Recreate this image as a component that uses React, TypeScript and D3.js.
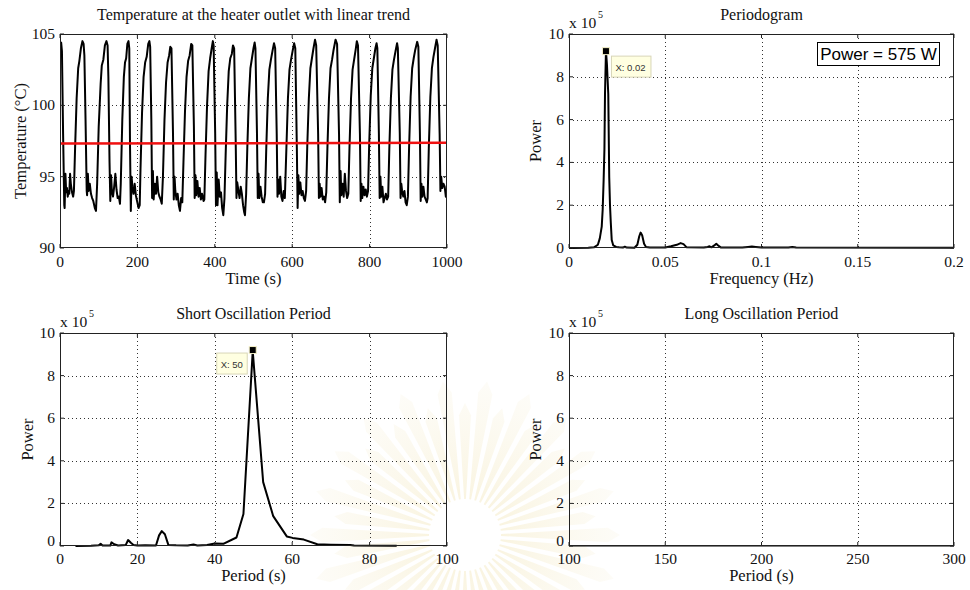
import React from 'react';
import * as d3 from 'd3';

// ---------------- data ----------------
const timeTicks = [0, 200, 400, 600, 800, 1000];
const tempTicks = [90, 95, 100, 105];
const freqTicks = [0, 0.05, 0.1, 0.15, 0.2];
const powerTicks = [0, 2, 4, 6, 8, 10];
const shortPeriodTicks = [0, 20, 40, 60, 80, 100];
const longPeriodTicks = [100, 150, 200, 250, 300];

// heater outlet temperature: [time (s), temperature (°C)]
const temperature: [number, number][] = [
  [0, 104.2], [3, 104.4], [5, 103.8], [8, 98.0], [11, 93.0], [12, 92.8], [14, 95.2], [16, 93.9], [18, 94.2], [20, 93.6], [22, 94.0], [24, 93.8], [26, 95.2], [28, 94.5], [31, 93.9], [34, 93.6], [36, 94.0],
  [39, 97.0], [43, 100.5], [47, 102.6], [50, 103.1], [54, 104.0], [58, 104.5], [61, 104.3],
  [63, 103.5], [66, 99.0], [69, 94.0], [70, 93.7], [72, 95.2], [74, 94.0], [77, 94.5], [80, 93.8], [83, 93.5], [86, 93.3], [90, 92.8], [93, 92.6],
  [96, 94.5], [100, 98.5], [105, 101.5], [108, 102.8], [112, 103.2], [116, 104.2], [120, 104.5], [123, 104.2],
  [125, 102.0], [128, 96.0], [130, 93.3], [132, 95.1], [134, 94.0], [137, 93.6], [140, 94.3], [143, 95.2], [146, 94.1], [149, 93.5], [152, 93.6], [155, 93.1], [157, 94.5],
  [161, 99.0], [165, 102.0], [168, 103.0], [171, 103.3], [174, 104.3], [177, 104.5], [179, 104.0],
  [181, 97.0], [183, 92.6], [185, 95.0], [187, 94.3], [190, 93.8], [193, 94.5], [196, 93.7], [199, 93.3], [203, 92.8], [206, 93.0],
  [208, 95.5], [212, 99.5], [216, 102.0], [220, 103.0], [224, 103.4], [228, 104.3], [231, 104.5], [233, 104.1],
  [236, 99.0], [238, 93.5], [240, 95.4], [242, 93.4], [245, 94.5], [248, 93.8], [251, 95.0], [254, 93.9], [257, 93.6], [260, 93.4], [263, 93.1],
  [266, 95.0], [270, 99.0], [274, 101.6], [278, 103.0], [282, 103.5], [285, 104.1], [288, 104.0],
  [292, 98.0], [294, 93.4], [296, 95.0], [298, 94.0], [301, 93.4], [304, 93.8], [307, 93.0], [310, 92.6], [313, 93.5], [316, 93.2],
  [319, 96.0], [323, 99.6], [327, 102.0], [331, 103.1], [335, 103.5], [339, 104.3], [342, 104.2],
  [346, 98.5], [348, 93.5], [350, 95.1], [352, 93.7], [355, 94.7], [358, 93.6], [361, 94.2], [364, 93.4], [367, 93.8], [371, 93.3], [373, 93.4],
  [376, 96.5], [380, 100.0], [384, 102.4], [388, 103.3], [392, 104.0], [395, 104.5], [397, 104.2],
  [401, 98.0], [403, 93.0], [405, 95.3], [407, 93.0], [410, 94.8], [413, 93.6], [416, 93.9], [419, 92.8], [422, 92.3], [425, 93.5],
  [428, 96.5], [432, 100.0], [436, 102.4], [440, 103.3], [444, 103.6], [447, 104.2], [450, 104.0],
  [454, 97.5], [456, 93.5], [458, 94.6], [461, 94.0], [464, 93.5], [467, 94.3], [470, 93.8], [473, 93.0], [476, 92.5], [478, 92.3], [481, 93.8],
  [484, 97.0], [488, 100.5], [492, 102.6], [496, 103.3], [500, 104.0], [503, 104.4], [505, 104.0],
  [509, 98.0], [511, 93.5], [513, 95.2], [515, 93.5], [518, 94.3], [521, 93.6], [524, 93.2], [527, 93.2], [530, 93.8],
  [533, 97.0], [537, 100.5], [541, 102.5], [545, 103.2], [549, 103.8], [553, 104.35], [556, 104.0],
  [560, 98.0], [562, 93.6], [564, 94.8], [566, 93.8], [569, 95.0], [572, 93.6], [575, 93.3], [578, 94.0], [581, 93.5],
  [585, 97.0], [589, 100.5], [593, 102.5], [597, 103.2], [601, 103.8], [605, 104.35], [608, 104.0],
  [612, 97.0], [614, 92.8], [616, 95.1], [618, 93.8], [621, 94.6], [624, 93.7], [627, 94.0], [630, 93.5], [633, 93.3], [636, 94.0],
  [639, 97.2], [643, 100.5], [647, 102.6], [651, 103.3], [655, 104.0], [659, 104.6], [662, 104.2],
  [667, 98.0], [669, 93.5], [671, 94.5], [673, 93.6], [676, 94.2], [679, 93.4], [682, 93.6], [685, 93.2], [688, 93.9],
  [691, 97.0], [695, 100.5], [699, 102.6], [703, 103.2], [707, 103.9], [712, 104.6], [716, 104.3],
  [721, 98.0], [723, 93.2], [725, 95.4], [727, 93.7], [730, 94.5], [733, 93.6], [736, 95.2], [739, 94.0], [742, 93.5], [745, 93.8],
  [748, 97.0], [752, 100.5], [756, 102.5], [760, 103.2], [764, 103.9], [767, 104.5], [770, 104.2],
  [775, 98.0], [777, 93.3], [779, 94.5], [781, 93.5], [784, 94.3], [787, 93.7], [790, 94.1], [793, 93.6], [796, 94.0],
  [799, 97.3], [803, 100.7], [807, 102.6], [811, 103.3], [815, 104.0], [818, 104.35], [820, 104.0],
  [824, 98.0], [826, 93.5], [828, 95.0], [830, 93.6], [833, 94.3], [836, 93.2], [839, 93.5], [842, 93.8], [845, 93.4], [848, 93.6],
  [851, 97.0], [855, 100.5], [859, 102.5], [863, 103.2], [867, 103.8], [871, 104.35], [873, 104.0],
  [878, 98.0], [880, 93.5], [882, 94.5], [884, 94.0], [887, 93.6], [890, 94.0], [893, 93.2], [896, 93.0], [899, 93.6],
  [902, 97.0], [906, 100.6], [910, 102.6], [914, 103.3], [918, 103.9], [923, 104.45], [926, 104.1],
  [930, 98.0], [932, 93.3], [934, 94.5], [936, 93.6], [939, 94.3], [942, 93.6], [945, 93.4], [948, 93.2], [950, 93.5],
  [953, 97.0], [957, 100.6], [961, 102.6], [965, 103.4], [969, 104.0], [973, 104.6], [976, 104.2],
  [981, 98.0], [983, 94.0], [985, 95.0], [988, 94.2], [991, 94.5], [994, 94.3], [997, 93.6], [1000, 93.8],
];

const linearTrend: [number, number][] = [[0, 97.32], [1000, 97.38]];

// periodogram: [frequency (Hz), power (x 1e5)]
const periodogram: [number, number][] = [
  [0, 0], [0.010, 0.01], [0.013, 0.03], [0.015, 0.15], [0.016, 0.45], [0.017, 1.0], [0.0175, 1.8], [0.018, 3.2],
  [0.0184, 4.6], [0.0187, 7.2], [0.0192, 9.2], [0.0197, 8.6], [0.0204, 7.2], [0.0209, 3.3], [0.0213, 2.0],
  [0.0217, 1.2], [0.0222, 0.37], [0.023, 0.12], [0.0245, 0.05], [0.026, 0.03], [0.028, 0.02], [0.029, 0.06],
  [0.030, 0.02], [0.034, 0.01], [0.0355, 0.15], [0.0365, 0.55], [0.0372, 0.72], [0.038, 0.6], [0.039, 0.2],
  [0.040, 0.05], [0.042, 0.02], [0.050, 0.02], [0.053, 0.08], [0.056, 0.15], [0.058, 0.23], [0.0595, 0.18],
  [0.061, 0.04], [0.070, 0.02], [0.072, 0.05], [0.073, 0.08], [0.074, 0.03], [0.0755, 0.12], [0.0765, 0.2],
  [0.0775, 0.12], [0.079, 0.02], [0.090, 0.02], [0.093, 0.05], [0.095, 0.07], [0.097, 0.05], [0.100, 0.02],
  [0.114, 0.02], [0.116, 0.05], [0.118, 0.02], [0.2, 0.01],
];

// short oscillation period: [period (s), power (x 1e5)]
const shortPeriod: [number, number][] = [
  [4, 0.0], [8, 0.01], [10, 0.03], [10.5, 0.1], [11, 0.02], [13, 0.02], [13.3, 0.17], [14, 0.08], [15, 0.02],
  [17, 0.05], [17.6, 0.28], [18.3, 0.15], [19, 0.05], [20, 0.02], [22, 0.03], [24.8, 0.02], [25.6, 0.5],
  [26.3, 0.7], [27.1, 0.55], [28.0, 0.05], [30, 0.03], [33, 0.02], [34.5, 0.07], [35.5, 0.02], [38, 0.05],
  [40, 0.12], [42.2, 0.1], [45.6, 0.4], [47.4, 1.5], [49.8, 9.15], [52.5, 3.0], [55.1, 1.4], [58.6, 0.45],
  [60.1, 0.38], [63, 0.3], [66.5, 0.08], [70, 0.06], [75, 0.05], [76, 0.02], [87, 0.01],
];

// long oscillation period: [period (s), power (x 1e5)]
const longPeriod: [number, number][] = [[100, 0.01], [300, 0.01]];

const freqPeak: [number, number] = [0.0192, 9.2];
const periodPeak: [number, number] = [49.8, 9.2];

// ---------------- drawing ----------------
const SERIF = "'Liberation Serif', 'Times New Roman', serif";
const SANS = "'Liberation Sans', Arial, sans-serif";
const AXIS = '#222';

type Series = { data: [number, number][]; color: string; width: number };
type Scales = { xs: d3.ScaleLinear<number, number>; ys: d3.ScaleLinear<number, number> };

type PanelProps = {
  id: string;
  left: number; top: number; right: number; bottom: number;
  xDomain: [number, number]; yDomain: [number, number];
  xTicks: number[]; yTicks: number[];
  title: string; xLabel: string; yLabel: string; yLabelX: number;
  xTickDy: number; xLabelDy: number; zeroDy: number;
  exponent?: boolean;
  series: Series[];
  overlay?: (s: Scales) => React.ReactNode;
};

function Panel(p: PanelProps) {
  const xs = d3.scaleLinear().domain(p.xDomain).range([p.left, p.right]);
  const ys = d3.scaleLinear().domain(p.yDomain).range([p.bottom, p.top]);
  const line = d3.line<[number, number]>().x(d => xs(d[0])).y(d => ys(d[1]));
  const cx = (p.left + p.right) / 2;
  const cy = (p.top + p.bottom) / 2;
  const tl = 4;
  const fmt = (v: number) => String(+v.toFixed(4));
  return (
    <g>
      <defs>
        <clipPath id={p.id}>
          <rect x={p.left} y={p.top - 1} width={p.right - p.left} height={p.bottom - p.top + 2} />
        </clipPath>
      </defs>
      {p.xTicks.slice(1, -1).map(t => (
        <line key={'gx' + t} x1={Math.round(xs(t)) + 0.5} x2={Math.round(xs(t)) + 0.5} y1={p.top} y2={p.bottom}
          stroke="#333" strokeWidth={1} strokeDasharray="1,3" />
      ))}
      {p.yTicks.slice(1, -1).map(t => (
        <line key={'gy' + t} y1={Math.round(ys(t)) + 0.5} y2={Math.round(ys(t)) + 0.5} x1={p.left} x2={p.right}
          stroke="#333" strokeWidth={1} strokeDasharray="1,3" />
      ))}
      <g clipPath={`url(#${p.id})`}>
        {p.series.map((s, i) => (
          <path key={i} d={line(s.data) || ''} fill="none" stroke={s.color} strokeWidth={s.width} strokeLinejoin="round" />
        ))}
      </g>
      <rect x={p.left + 0.5} y={p.top + 0.5} width={p.right - p.left - 1} height={p.bottom - p.top - 1}
        fill="none" stroke={AXIS} strokeWidth={1} />
      {p.xTicks.map(t => (
        <g key={'tx' + t}>
          <line x1={xs(t)} x2={xs(t)} y1={p.bottom} y2={p.bottom - tl} stroke={AXIS} />
          <line x1={xs(t)} x2={xs(t)} y1={p.top} y2={p.top + tl} stroke={AXIS} />
          <text x={xs(t)} y={p.bottom + p.xTickDy} textAnchor="middle" fontFamily={SERIF} fontSize={15.5} fill="#111">{fmt(t)}</text>
        </g>
      ))}
      {p.yTicks.map((t, i) => (
        <g key={'ty' + t}>
          <line x1={p.left} x2={p.left + tl} y1={ys(t)} y2={ys(t)} stroke={AXIS} />
          <line x1={p.right} x2={p.right - tl} y1={ys(t)} y2={ys(t)} stroke={AXIS} />
          <text x={p.left - 5} y={ys(t) + (i === 0 ? p.zeroDy : 5)} textAnchor="end" fontFamily={SERIF} fontSize={15.5} fill="#111">{fmt(t)}</text>
        </g>
      ))}
      {p.exponent && (
        <g fontFamily={SERIF} fill="#111">
          <text x={p.left} y={p.top - 6} fontSize={15.5}>x 10</text>
          <text x={p.left + 29} y={p.top - 16} fontSize={10}>5</text>
        </g>
      )}
      <text x={cx} y={p.top - 14} textAnchor="middle" fontFamily={SERIF} fontSize={16} fill="#111">{p.title}</text>
      <text x={cx} y={p.bottom + p.xLabelDy} textAnchor="middle" fontFamily={SERIF} fontSize={16.5} fill="#111">{p.xLabel}</text>
      <text transform={`translate(${p.yLabelX},${cy}) rotate(-90)`} textAnchor="middle" fontFamily={SERIF} fontSize={16.5} fill="#111">{p.yLabel}</text>
      {p.overlay && p.overlay({ xs, ys })}
    </g>
  );
}

function DataTip({ x, y, label, boxDx, boxDy, boxW }: { x: number; y: number; label: string; boxDx: number; boxDy: number; boxW: number }) {
  return (
    <g>
      <rect x={x + boxDx} y={y + boxDy} width={boxW} height={21} fill="#ffffe1" stroke="#d8d6b8" strokeWidth={1} />
      <text x={x + boxDx + 4} y={y + boxDy + 14.5} fontFamily={SANS} fontSize={9.5} fill="#333">{label}</text>
      <rect x={x - 3.5} y={y - 3.5} width={7} height={7} fill="#000" stroke="#f4f0c8" strokeWidth={1} />
    </g>
  );
}

function Watermark() {
  const cx = 465, cy = 535;
  const n = 44;
  const rays = d3.range(n).map(i => {
    const a = (i / n) * 2 * Math.PI;
    const r0 = 36, r1 = i % 2 === 0 ? 155 : 132;
    const d0 = 0.025, d1 = 0.05;
    const pt = (r: number, ang: number) => `${cx + r * Math.cos(ang)},${cy + r * Math.sin(ang)}`;
    return `M${pt(r0, a - d0)} L${pt(r1 - 12, a - d1)} L${pt(r1, a)} L${pt(r1 - 12, a + d1)} L${pt(r0, a + d0)} Z`;
  });
  return (
    <g>
      <defs>
        <radialGradient id="wm" cx={cx} cy={cy} r={160} gradientUnits="userSpaceOnUse">
          <stop offset="0.2" stopColor="#f1e3b0" stopOpacity={0.4} />
          <stop offset="1" stopColor="#f7f1dc" stopOpacity={0.2} />
        </radialGradient>
      </defs>
      {rays.map((d, i) => <path key={i} d={d} fill="url(#wm)" />)}
    </g>
  );
}

export default function App() {
  return (
    <svg width={970} height={590} style={{ position: 'absolute', left: 0, top: 0 }}>
      <rect width={970} height={590} fill="#fff" />
      <Watermark />
      <Panel id="c1" left={60} right={447} top={34} bottom={248}
        xDomain={[0, 1000]} yDomain={[90, 105]} xTicks={timeTicks} yTicks={tempTicks}
        xTickDy={18.5} xLabelDy={36} zeroDy={5}
        title="Temperature at the heater outlet with linear trend" xLabel="Time (s)" yLabel="Temperature (°C)" yLabelX={26}
        series={[{ data: temperature, color: '#000', width: 2 }, { data: linearTrend, color: '#f01010', width: 2.5 }]} />
      <Panel id="c2" left={569} right={954} top={34} bottom={248}
        xDomain={[0, 0.2]} yDomain={[0, 10]} xTicks={freqTicks} yTicks={powerTicks} exponent
        xTickDy={18.5} xLabelDy={36} zeroDy={5}
        title="Periodogram" xLabel="Frequency (Hz)" yLabel="Power" yLabelX={541}
        series={[{ data: periodogram, color: '#000', width: 2 }]}
        overlay={({ xs, ys }) => (
          <g>
            <DataTip x={xs(freqPeak[0])} y={ys(freqPeak[1])} label="X: 0.02" boxDx={5.5} boxDy={5} boxW={39.5} />
            <rect x={817.5} y={42.5} width={122} height={23} fill="#fff" stroke="#000" strokeWidth={1} />
            <text x={878.5} y={60} textAnchor="middle" fontFamily={SANS} fontSize={17} fill="#000">Power = 575 W</text>
          </g>
        )} />
      <Panel id="c3" left={60} right={447} top={333} bottom={546}
        xDomain={[0, 100]} yDomain={[0, 10]} xTicks={shortPeriodTicks} yTicks={powerTicks} exponent
        xTickDy={18} xLabelDy={35} zeroDy={0}
        title="Short Oscillation Period" xLabel="Period (s)" yLabel="Power" yLabelX={33}
        series={[{ data: shortPeriod, color: '#000', width: 2 }]}
        overlay={({ xs, ys }) => (
          <DataTip x={xs(periodPeak[0])} y={ys(periodPeak[1])} label="X: 50" boxDx={-36} boxDy={3} boxW={30.5} />
        )} />
      <Panel id="c4" left={569} right={954} top={333} bottom={546}
        xDomain={[100, 300]} yDomain={[0, 10]} xTicks={longPeriodTicks} yTicks={powerTicks} exponent
        xTickDy={18} xLabelDy={35} zeroDy={0}
        title="Long Oscillation Period" xLabel="Period (s)" yLabel="Power" yLabelX={541}
        series={[{ data: longPeriod, color: '#000', width: 1.5 }]} />
    </svg>
  );
}
